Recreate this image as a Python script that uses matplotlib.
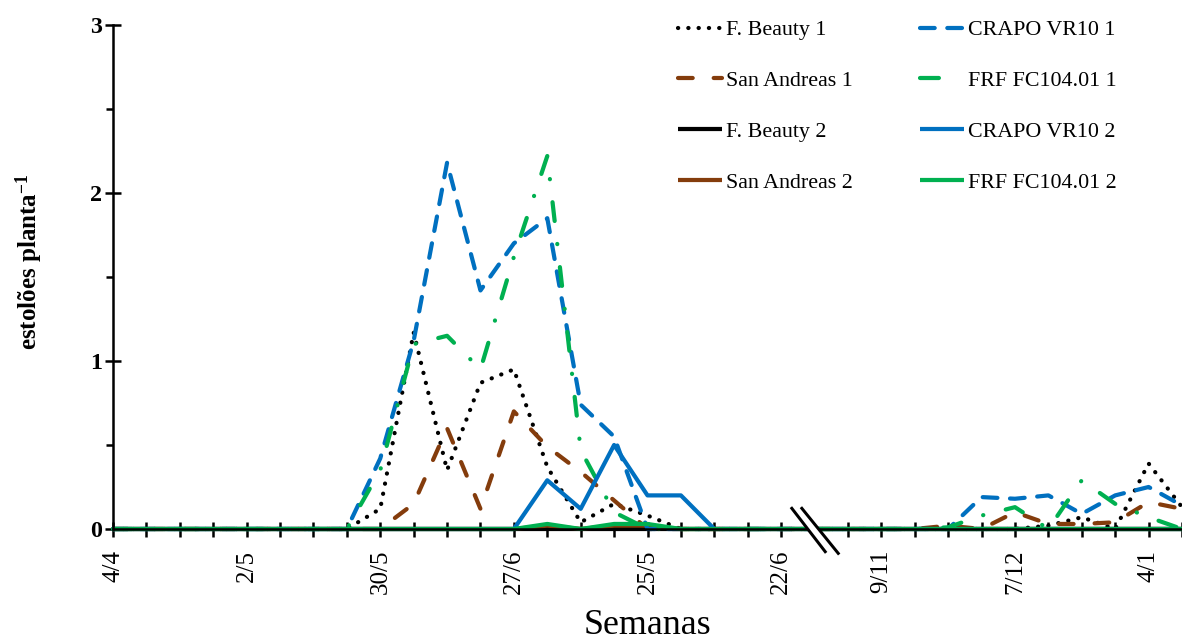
import matplotlib
matplotlib.use("Agg")
import matplotlib.pyplot as plt
from matplotlib.lines import Line2D

plt.rcParams['font.family'] = ['Liberation Serif', 'DejaVu Serif']
plt.rcParams['mathtext.fontset'] = 'custom'
plt.rcParams['mathtext.rm'] = 'Liberation Serif:bold'
plt.rcParams['mathtext.default'] = 'rm'

# week positions (position 21 is the axis break)
weeks = list(range(0, 21)) + list(range(22, 33))
tick_positions = [0, 4, 8, 12, 16, 20, 23, 27, 31]
tick_labels = ["4/4", "2/5", "30/5", "27/6", "25/5", "22/6", "9/11", "7/12", "4/1"]

#                 0  1  2  3  4  5  6  7   8     9     10    11    12    13    14    15    16    17 18 19 20 | 22 23 24 25    26    27    28    29    30    31    32
fbeauty1   = [0, 0, 0, 0, 0, 0, 0, 0, 0.12, 1.17, 0.35, 0.87, 0.95, 0.37, 0.04, 0.15, 0.08, 0, 0, 0, 0,  0, 0, 0, 0,    0,    0,    0.02, 0.07, 0,    0.39, 0.13]
sandreas1  = [0, 0, 0, 0, 0, 0, 0, 0, 0,    0.15, 0.60, 0.12, 0.70, 0.49, 0.34, 0.17, 0,    0, 0, 0, 0,  0, 0, 0, 0.02, 0,    0.10, 0.03, 0.03, 0.04, 0.16, 0.12]
fbeauty2   = [0] * 32
sandreas2  = [0, 0, 0, 0, 0, 0, 0, 0, 0,    0,    0,    0,    0,    0.02, 0,    0.02, 0.02, 0, 0, 0, 0,  0, 0, 0, 0,    0,    0,    0,    0,    0,    0,    0]
crapo1     = [0, 0, 0, 0, 0, 0, 0, 0, 0.42, 1.12, 2.18, 1.42, 1.70, 1.85, 0.74, 0.55, 0,    0, 0, 0, 0,  0, 0, 0, 0,    0.19, 0.18, 0.20, 0.09, 0.20, 0.25, 0.14]
frf1       = [0, 0, 0, 0, 0, 0, 0, 0, 0.35, 1.10, 1.15, 0.95, 1.62, 2.22, 0.47, 0.10, 0,    0, 0, 0, 0,  0, 0, 0, 0.01, 0.08, 0.13, 0.0,  0.29, 0.15, 0.07, 0]
crapo2     = [0, 0, 0, 0, 0, 0, 0, 0, 0,    0,    0,    0,    0,    0.29, 0.12, 0.50, 0.20, 0.20, 0, 0, 0, 0, 0, 0, 0,  0,    0,    0,    0,    0,    0,    0]
frf2       = [0, 0, 0, 0, 0, 0, 0, 0, 0,    0,    0,    0,    0,    0.03, 0,    0.03, 0.03, 0, 0, 0, 0,  0, 0, 0, 0,    0,    0,    0,    0,    0,    0,    0]

BLACK = "#000000"
BROWN = "#843C0C"
BLUE = "#0070C0"
GREEN = "#00B050"

series = [
    ("F. Beauty 1", fbeauty1, BLACK, (0, (0.05, 2.4))),
    ("San Andreas 1", sandreas1, BROWN, (0, (3.5, 5.0))),
    ("F. Beauty 2", fbeauty2, BLACK, "-"),
    ("San Andreas 2", sandreas2, BROWN, "-"),
    ("CRAPO VR10 1", crapo1, BLUE, (0, (3.5, 3.0))),
    ("FRF FC104.01 1", frf1, GREEN, (0, (4.5, 5.5, 0.05, 5.5))),
    ("CRAPO VR10 2", crapo2, BLUE, "-"),
    ("FRF FC104.01 2", frf2, GREEN, "-"),
]

fig = plt.figure(figsize=(1182 / 72, 641 / 72), dpi=72)
ax = fig.add_axes([113 / 1182, 1 - 529 / 641, 1 - 113 / 1182, (529 - 25) / 641])

handles = []
for name, vals, col, ls in series:
    ln, = ax.plot(weeks, vals, color=col, linestyle=ls, lw=4.2, clip_on=False,
                  dash_capstyle='round', solid_capstyle='butt', label=name)
    if name == "FRF FC104.01 1":
        ln = Line2D([], [], color=col, linestyle=(0, (4.5, 12)), lw=4.2,
                    dash_capstyle='round', label=name)
    handles.append(ln)

ax.set_xlim(0, 32)
ax.set_ylim(0, 3)
ax.set_xticks(weeks)
ax.set_xticklabels([tick_labels[tick_positions.index(w)] if w in tick_positions else "" for w in weeks],
                   rotation=90, fontsize=25)
ax.set_yticks([0, 1, 2, 3])
ax.set_yticklabels(["0", "1", "2", "3"], fontsize=24, fontweight='bold')
ax.set_yticks([0.5, 1.5, 2.5], minor=True)

for s in ["top", "right"]:
    ax.spines[s].set_visible(False)
for s in ["left", "bottom"]:
    ax.spines[s].set_linewidth(2.5)

ax.tick_params(axis='x', which='major', direction='inout', length=15, width=2.5, pad=13)
ax.tick_params(axis='y', which='major', direction='inout', length=16, width=2.5, pad=3)
ax.tick_params(axis='y', which='minor', direction='out', length=7, width=2.5)

ax.set_ylabel("estolões planta$^{-1}$", fontsize=25, fontweight='bold')
ax.yaxis.set_label_coords(-68 / 1069, 0.53)
ax.set_xlabel("Semanas", fontsize=36)
ax.xaxis.set_label_coords(0.5, -0.158)

# axis break marks
ax.fill([20.32, 20.62, 21.71, 21.32], [0.123, 0.123, -0.145, -0.135], color='white',
        clip_on=False, zorder=10)
ax.plot([20.32, 21.32], [0.123, -0.135], color='black', lw=3, clip_on=False, zorder=11)
ax.plot([20.62, 21.71], [0.123, -0.145], color='black', lw=3, clip_on=False, zorder=11)

leg = fig.legend(handles=handles, loc='upper left', bbox_to_anchor=(678 / 1182, 1 - 20 / 641),
                 ncol=2, frameon=False, fontsize=22, handlelength=2.0, handletextpad=0.2,
                 columnspacing=3.03, labelspacing=1.38, borderpad=0, borderaxespad=0)

fig.savefig("out.png", dpi=72)
